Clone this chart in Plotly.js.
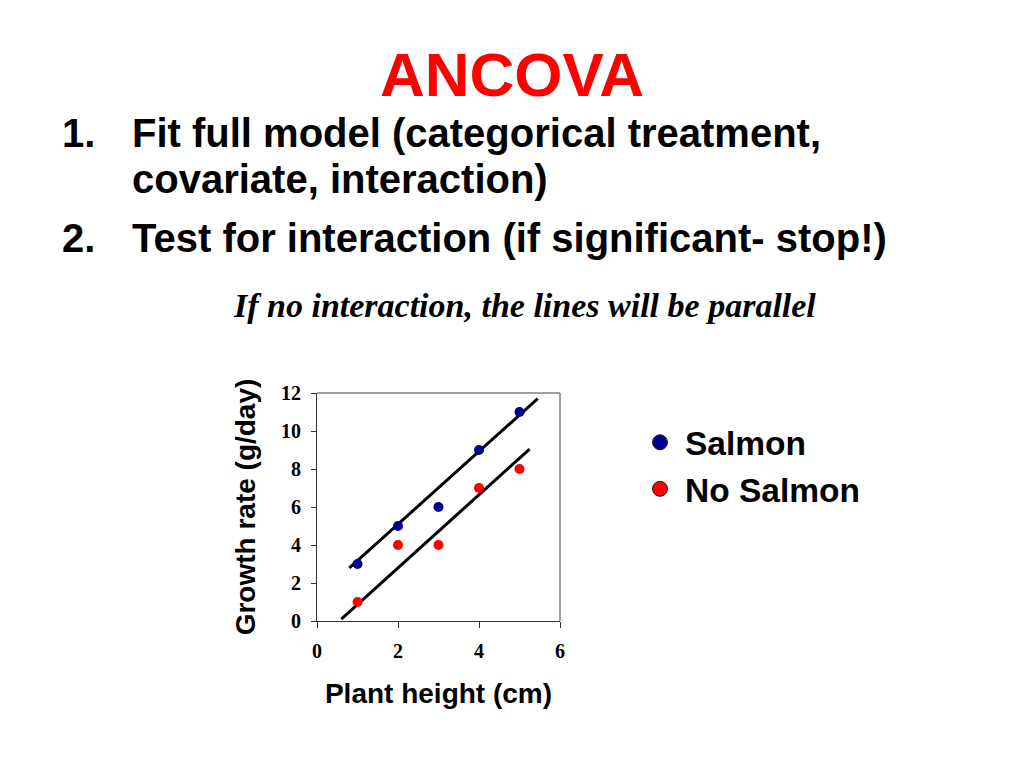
<!DOCTYPE html>
<html>
<head>
<meta charset="utf-8">
<script src="https://cdn.plot.ly/plotly-3.0.1.min.js"></script>
<style>
  html, body { margin: 0; padding: 0; background: #ffffff; }
  #chart { width: 1024px; height: 768px; }
</style>
</head>
<body>
<div id="chart"></div>
<script>
// ---- data ----
var plantHeight = [1, 2, 3, 4, 5];
var salmonGrowth = [3, 5, 6, 9, 11];
var noSalmonGrowth = [1, 4, 4, 7, 8];

// fitted (parallel) lines, end points
var salmonFitX = [0.8, 5.45];
var salmonFitY = [2.8, 11.7];
var noSalmonFitX = [0.6, 5.25];
var noSalmonFitY = [0.1, 9.05];

var seriesNames = ['Salmon', 'No Salmon'];
var xTicks = [0, 2, 4, 6];
var yTicks = [0, 2, 4, 6, 8, 10, 12];

var titleText = 'ANCOVA';
var listNumbers = ['1.', '2.'];
var listLines = ['Fit full model (categorical treatment,', 'covariate, interaction)', 'Test for interaction (if significant- stop!)'];
var noteText = 'If no interaction, the lines will be parallel';
var xTitle = 'Plant height (cm)';
var yTitle = 'Growth rate (g/day)';

// ---- styles ----
var SANS = 'Liberation Sans, Arial, Helvetica, sans-serif';
var SERIF = 'Liberation Serif, Times New Roman, Times, serif';
var BLUE = '#000090';
var RED = '#ff0000';
var W = 1024, H = 768;
function px(x) { return x / W; }
function py(y) { return 1 - y / H; }

var traces = [
  { type: 'scatter', mode: 'lines', x: salmonFitX, y: salmonFitY,
    line: { color: '#000000', width: 3 }, showlegend: false, hoverinfo: 'skip' },
  { type: 'scatter', mode: 'lines', x: noSalmonFitX, y: noSalmonFitY,
    line: { color: '#000000', width: 3 }, showlegend: false, hoverinfo: 'skip' },
  { type: 'scatter', mode: 'markers', x: plantHeight, y: salmonGrowth, name: seriesNames[0],
    marker: { color: BLUE, size: 10 }, showlegend: false },
  { type: 'scatter', mode: 'markers', x: plantHeight, y: noSalmonGrowth, name: seriesNames[1],
    marker: { color: RED, size: 10 }, showlegend: false },
  // legend entries (no points of their own)
  { type: 'scatter', mode: 'markers', x: [null], y: [null], name: seriesNames[0], legendgroup: 'a',
    marker: { color: BLUE, size: 15, line: { color: '#202020', width: 1 } }, showlegend: true, hoverinfo: 'skip' },
  { type: 'scatter', mode: 'markers', x: [null], y: [null], name: seriesNames[1], legendgroup: 'b',
    marker: { color: RED, size: 15, line: { color: '#202020', width: 1 } }, showlegend: true, hoverinfo: 'skip' }
];

var annotations = [
  { text: listNumbers[0], x: px(60), y: py(133), xanchor: 'left', yanchor: 'middle' },
  { text: listLines[0], x: px(130), y: py(133), xanchor: 'left', yanchor: 'middle' },
  { text: listLines[1], x: px(130), y: py(179), xanchor: 'left', yanchor: 'middle' },
  { text: listNumbers[1], x: px(60), y: py(238), xanchor: 'left', yanchor: 'middle' },
  { text: listLines[2], x: px(130), y: py(238), xanchor: 'left', yanchor: 'middle' }
].map(function (a) {
  a.xref = 'paper'; a.yref = 'paper'; a.showarrow = false;
  a.font = { family: SANS, size: 40, color: '#000000', weight: 'bold' };
  return a;
});
annotations.push({
  text: noteText, xref: 'paper', yref: 'paper', x: px(231), y: py(305),
  xanchor: 'left', yanchor: 'middle', showarrow: false,
  font: { family: SERIF, size: 34, color: '#000000', weight: 'bold', style: 'italic' }
});

var layout = {
  width: W, height: H,
  margin: { l: 0, r: 0, t: 0, b: 0 },
  paper_bgcolor: '#ffffff', plot_bgcolor: '#ffffff',
  title: {
    text: titleText, xref: 'paper', x: 0.5, xanchor: 'center',
    yref: 'container', y: py(74), yanchor: 'middle',
    font: { family: SANS, size: 62, color: RED, weight: 'bold' }
  },
  xaxis: {
    domain: [px(317), px(560)], range: [0, 6], tickvals: xTicks, ticktext: xTicks.map(String),
    showgrid: false, zeroline: false, showline: true, linecolor: '#303030', linewidth: 1,
    ticks: 'outside', ticklen: 6, tickcolor: '#303030', ticklabelstandoff: 6,
    tickfont: { family: SERIF, size: 20, color: '#000000', weight: 'bold' },
    title: { text: xTitle, standoff: 22, font: { family: SANS, size: 28, color: '#000000', weight: 'bold' } },
    fixedrange: true
  },
  yaxis: {
    domain: [1 - 621 / H, 1 - 393 / H], range: [0, 12], tickvals: yTicks, ticktext: yTicks.map(String),
    showgrid: false, zeroline: false, showline: true, linecolor: '#303030', linewidth: 1,
    ticks: 'outside', ticklen: 5, tickcolor: '#303030', ticklabelstandoff: 6,
    tickfont: { family: SERIF, size: 20, color: '#000000', weight: 'bold' },
    title: { text: yTitle, standoff: 17, font: { family: SANS, size: 28, color: '#000000', weight: 'bold' } },
    fixedrange: true
  },
  shapes: [
    { type: 'line', xref: 'x domain', yref: 'y domain', x0: 0, x1: 1, y0: 1, y1: 1, line: { color: '#808080', width: 1.5 } },
    { type: 'line', xref: 'x domain', yref: 'y domain', x0: 1, x1: 1, y0: 0, y1: 1, line: { color: '#808080', width: 1.5 } }
  ],
  annotations: annotations,
  showlegend: true,
  legend: {
    x: px(635), y: py(414), xanchor: 'left', yanchor: 'top',
    bgcolor: 'rgba(0,0,0,0)', borderwidth: 0, tracegroupgap: 0, itemwidth: 40,
    font: { family: SANS, size: 33.5, color: '#000000', weight: 'bold' }
  }
};

Plotly.newPlot('chart', traces, layout, { staticPlot: true, displayModeBar: false });
</script>
</body>
</html>
